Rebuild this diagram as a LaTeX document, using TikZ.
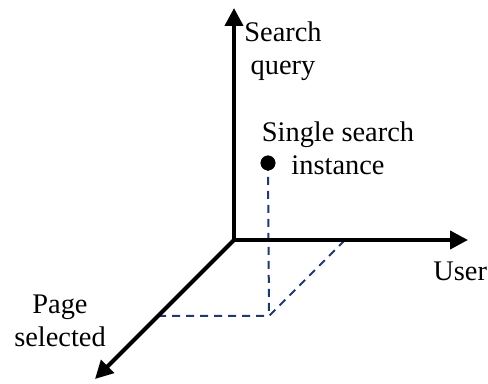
\documentclass[tikz,border=0pt]{standalone}
\usepackage{fontspec}
\setmainfont{Liberation Serif}
\usetikzlibrary{arrows.meta}
\definecolor{navy}{RGB}{31,56,110}
\begin{document}
\begin{tikzpicture}[x=0.5pt,y=-0.5pt,
  axis/.style={line width=2pt},
  tip/.style={-{Triangle[length=9pt,width=9pt]}},
  guide/.style={line width=1pt,draw=navy,dash pattern=on 4pt off 3pt},
  lbl/.style={font=\fontsize{14.2}{16.5}\selectfont,align=center,inner sep=0pt}]
\useasboundingbox (0,0) rectangle (488,384);
\coordinate (O) at (234,240);
\coordinate (Z) at (234,8);
\coordinate (X) at (468,240);
\coordinate (Y) at (95,379);
\coordinate (F) at (269,316);
\coordinate (L) at (158,316);
\coordinate (R) at (345,240);
\node[circle,fill=black,inner sep=0pt,minimum size=7.4pt] (dot) at (268,163) {};
\draw[guide] (dot.center) -- (F);
\draw[guide] (L) -- (F) -- (R);
\draw[axis,{Triangle[length=9pt,width=9pt]}-{Triangle[length=9pt,width=9pt]}] (Z) -- (O) -- (X);
\draw[axis,tip] (O) -- (Y);
\node[circle,fill=black,inner sep=0pt,minimum size=7.4pt] at (dot) {};
\node[lbl,anchor=base] (zl) at (283,75) {Search\\query};
\node[lbl,anchor=base] (dl) at (338,175) {Single search\\instance};
\node[lbl,anchor=base west] (xl) at (433,281) {User};
\node[lbl,anchor=base] (yl) at (60,347) {Page\\selected};
\end{tikzpicture}
\end{document}
